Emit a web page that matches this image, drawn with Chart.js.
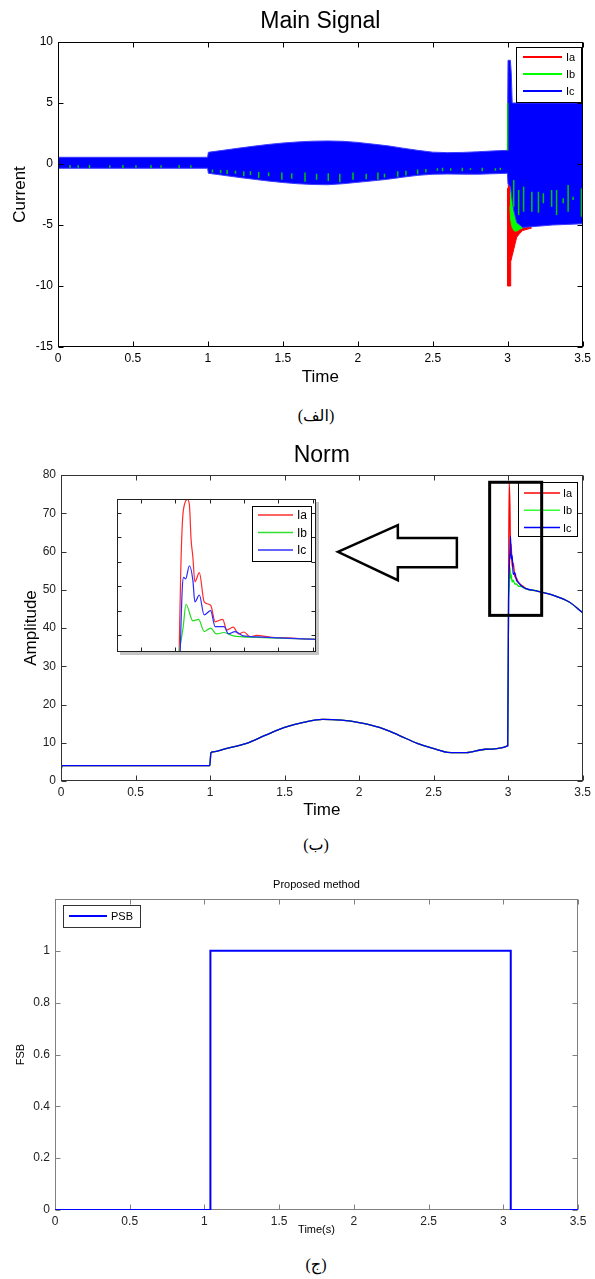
<!DOCTYPE html>
<html>
<head>
<meta charset="utf-8">
<script src="https://cdn.jsdelivr.net/npm/chart.js@4.4.1/dist/chart.umd.min.js"></script>
<style>
  body { margin: 0; background: #fff; }
  #page { position: relative; width: 595px; height: 1279px; overflow: hidden; background: #fff; }
  canvas { position: absolute; left: 0; }
  .cap { position: absolute; left: 0; width: 632px; text-align: center; font: 16px "Liberation Serif", "DejaVu Sans", serif; line-height: 20px; color: #000; }
</style>
</head>
<body>
<div id="page">
  <canvas id="signal" width="595" height="395" style="top:0"></canvas>
  <div class="cap" style="top:406px">(الف)</div>
  <canvas id="norm" width="595" height="400" style="top:430px"></canvas>
  <canvas id="zoomed" width="215" height="170" style="top:492px;left:110px"></canvas>
  <div class="cap" style="top:835px">(ب)</div>
  <canvas id="psb" width="595" height="385" style="top:860px"></canvas>
  <div class="cap" style="top:1255px">(ج)</div>
</div>
<script>
// ---- values ----
const timeTicks = [0, 0.5, 1, 1.5, 2, 2.5, 3, 3.5];
const currentTicks = [-15, -10, -5, 0, 5, 10];
const normTicks = [0, 10, 20, 30, 40, 50, 60, 70, 80];
const psbTicks = [0, 0.2, 0.4, 0.6, 0.8, 1];
const zoomTTicks = [3.0, 3.01, 3.02, 3.03, 3.04, 3.05];
const zoomYTicks = [45, 50, 55, 60, 65, 70];

const phaseNames = ['Ia', 'Ib', 'Ic'];
const phaseColors = ['#ff0000', '#00ff00', '#0000ff'];

// Main Signal: envelope of the dense blue (Ic) band
const envT = [0, 0.998, 1.003, 1.1, 1.2, 1.3, 1.4, 1.5, 1.6, 1.7, 1.8, 1.9, 2.0, 2.1, 2.2, 2.3, 2.4, 2.5, 2.6, 2.7,
  2.8, 2.9, 2.998, 3.002, 3.018, 3.024, 3.03, 3.04, 3.06, 3.1, 3.2, 3.3, 3.4, 3.5];
const envUpper = [0.55, 0.55, 0.96, 1.12, 1.29, 1.45, 1.6, 1.72, 1.81, 1.87, 1.89, 1.86, 1.77, 1.63, 1.49, 1.3, 1.12, 0.97, 0.93, 0.95,
  1.0, 1.07, 1.12, 8.5, 8.5, 7.4, 5.0, 5.0, 5.0, 5.0, 5.0, 5.0, 5.0, 5.0];
const envLower = [-0.35, -0.35, -0.76, -0.92, -1.09, -1.24, -1.39, -1.52, -1.62, -1.68, -1.7, -1.62, -1.5, -1.38, -1.25, -1.08, -0.93, -0.84, -0.82, -0.83,
  -0.84, -0.8, -0.76, -1.6, -1.9, -2.4, -3.0, -3.8, -4.8, -5.2, -5.1, -5.0, -4.95, -4.9];

// Ia dips below the band right after the fault
const iaTailT = [2.999, 3.0, 3.017, 3.02, 3.03, 3.04, 3.05, 3.06, 3.08, 3.1, 3.13, 3.16];
const iaTailMin = [-2.0, -10.0, -10.0, -8.0, -7.5, -7.0, -6.5, -6.0, -5.7, -5.45, -5.35, -5.25];

// Ib fringe under the band and the green streaks inside it
const ibTailT = [3.015, 3.02, 3.03, 3.045, 3.06, 3.08, 3.1];
const ibTailMin = [-3.5, -4.6, -5.2, -5.5, -5.5, -5.35, -5.25];
const ibDashT = [0.08, 0.135, 0.21, 0.345, 0.433, 0.52, 0.62, 0.687, 0.808, 0.886,
  1.03, 1.085, 1.128, 1.184, 1.239, 1.284, 1.339, 1.405, 1.493, 1.559, 1.648, 1.725, 1.803, 1.88, 1.968,
  2.056, 2.134, 2.178, 2.266, 2.321, 2.399, 2.454, 2.531, 2.565, 2.62, 2.697, 2.752, 2.83, 2.918, 2.951,
  3.0, 3.04, 3.073, 3.106, 3.161, 3.205, 3.238, 3.293, 3.326, 3.37, 3.403, 3.436, 3.492];
const ibDashTop = [-0.08, -0.1, -0.08, -0.1, -0.08, -0.1, -0.08, -0.1, -0.08, -0.1,
  -0.45, -0.5, -0.5, -0.55, -0.6, -0.6, -0.65, -0.7, -0.7, -0.75, -0.7, -0.8, -0.75, -0.8, -0.7,
  -0.8, -0.7, -0.8, -0.6, -0.55, -0.45, -0.4, -0.35, -0.3, -0.35, -0.3, -0.35, -0.3, -0.35, -0.3,
  1.1, -1.31, -2.13, -1.86, -2.27, -2.27, -2.4, -2.13, -2.13, -2.81, -1.72, -2.68, -2.0];
const ibDashBottom = [-0.35, -0.3, -0.35, -0.3, -0.35, -0.3, -0.35, -0.3, -0.35, -0.3,
  -0.7, -0.75, -0.85, -0.8, -1.0, -0.9, -1.15, -1.0, -1.3, -1.2, -1.45, -1.3, -1.4, -1.5, -1.3,
  -1.25, -1.3, -1.1, -1.05, -0.95, -0.85, -0.7, -0.55, -0.6, -0.55, -0.6, -0.5, -0.6, -0.55, -0.5,
  5.0, -3.5, -4.18, -3.91, -3.91, -3.99, -3.22, -3.5, -4.18, -3.22, -3.91, -2.95, -4.32];

// Norm
const normT = [0, 0.006, 0.998, 1.006, 1.02, 1.1, 1.245, 1.373, 1.5, 1.627, 1.755, 1.882, 2.009, 2.136, 2.264, 2.39,
  2.518, 2.594, 2.72, 2.849, 2.997,
  3.003, 3.007, 3.012, 3.016, 3.02, 3.027, 3.034, 3.045, 3.056, 3.067, 3.09, 3.12, 3.19, 3.3, 3.41, 3.5];
const normPre = [2.2, 4.0, 4.0, 7.4, 7.6, 8.4, 9.85, 12.0, 14.0, 15.3, 16.1, 15.9, 15.2, 14.0, 12.0, 9.85,
  8.3, 7.5, 7.4, 8.3, 9.2];
const normIaPost = [50, 78, 72, 60, 62, 56, 57, 53.5, 53, 52, 51.2, 50.3, 49.7, 48.6, 46.8, 44.0];
const normIbPost = [47, 50, 56, 53, 54, 52, 52.5, 51.5, 51.5, 51, 50.8, 50.2, 49.7, 48.6, 46.8, 44.0];
const normIcPost = [48, 55, 60, 64, 58, 59, 54, 54.5, 52.5, 52, 51, 50.3, 49.7, 48.6, 46.8, 44.0];

// magnified view of the fault instant
const zoomIaT = [3.0111, 3.0116, 3.0121, 3.0128, 3.0135, 3.0141, 3.0146, 3.0151, 3.0157, 3.0170, 3.0184, 3.0203, 3.0216,
  3.0238, 3.0250, 3.0269, 3.0284, 3.0300, 3.0318, 3.0337, 3.0380, 3.0430, 3.0470, 3.0510];
const zoomIa = [41.0, 58.7, 68.6, 72.1, 72.8, 71.7, 64.5, 61.1, 55.9, 57.8, 51.8, 51.1, 47.7,
  48.2, 46.0, 46.6, 45.2, 45.6, 44.6, 44.9, 44.5, 44.4, 44.2, 44.1];
const zoomIbT = [3.0110, 3.0123, 3.0131, 3.0151, 3.0168, 3.0184, 3.0203, 3.0220, 3.0242, 3.0269, 3.0337, 3.0420, 3.0510];
const zoomIb = [41.0, 46.7, 51.3, 47.9, 48.2, 45.7, 46.4, 45.2, 45.5, 44.8, 44.5, 44.3, 44.1];
const zoomIcT = [3.0114, 3.0120, 3.0124, 3.0130, 3.0141, 3.0151, 3.0157, 3.0170, 3.0184, 3.0203, 3.0216, 3.0242, 3.0255,
  3.0274, 3.0298, 3.0337, 3.0400, 3.0510];
const zoomIc = [41.0, 54.2, 56.8, 56.5, 59.2, 56.3, 51.8, 53.2, 49.1, 50.0, 46.7, 46.7, 45.2,
  45.7, 44.8, 44.6, 44.4, 44.1];

// Proposed method
const psbT = [0, 1.04, 3.05, 3.5];
const psbV = [0, 1, 0, 0];

// annotation shapes on the Norm plot, in data units
const zoomBox = {t0: 2.876, t1: 3.225, v0: 43.3, v1: 78.1};
const arrowShape = [[1.858, 59.9], [2.26, 66.9], [2.26, 63.5], [2.656, 63.5], [2.656, 55.9], [2.26, 55.9], [2.26, 52.5]];

// ---- helpers ----
Chart.defaults.font.family = "'Liberation Sans', Arial, Helvetica, sans-serif";
Chart.defaults.color = '#000';

const pts = (xs, ys) => xs.map((x, i) => ({x: x, y: ys[i]}));
function dashPts(ts, tops, bottoms) {
  const out = [];
  ts.forEach((t, i) => { out.push({x: t, y: tops[i]}, {x: t, y: bottoms[i]}, {x: t, y: null}); });
  return out;
}

function axis(tickVals, min, max, o) {
  return {
    type: 'linear', min: min, max: max, display: o.display !== false,
    afterBuildTicks: s => { s.ticks = tickVals.map(v => ({value: v})); },
    afterFit: s => { if (o.width) s.width = o.width; if (o.height) s.height = o.height; },
    grid: {display: false, drawTicks: false},
    border: {display: false},
    ticks: {autoSkip: false, maxRotation: 0, padding: o.pad || 4, color: o.tickColor || '#000',
      font: {size: o.tickSize || 12}, callback: v => String(v)},
    title: {display: !!o.title, text: o.title || '', color: '#000', font: {size: o.titleSize || 17},
      padding: {top: o.titlePad || 0, bottom: o.titlePad || 0}}
  };
}

function drawBox(chart, cfg) {
  const {ctx, chartArea: a, scales} = chart;
  const L = Math.round(a.left) + 0.5, R = Math.round(a.right) - 0.5;
  const T = Math.round(a.top) + 0.5, B = Math.round(a.bottom) - 0.5;
  ctx.save();
  ctx.strokeStyle = cfg.color;
  ctx.lineWidth = cfg.width || 1;
  ctx.strokeRect(L, T, R - L, B - T);
  ctx.beginPath();
  cfg.xTicks.forEach(v => {
    const px = Math.round(scales.x.getPixelForValue(v)) + 0.5;
    ctx.moveTo(px, B); ctx.lineTo(px, B - cfg.tick);
    ctx.moveTo(px, T); ctx.lineTo(px, T + cfg.tick);
  });
  cfg.yTicks.forEach(v => {
    const py = Math.round(scales.y.getPixelForValue(v)) + 0.5;
    ctx.moveTo(L, py); ctx.lineTo(L + cfg.tick, py);
    ctx.moveTo(R, py); ctx.lineTo(R - cfg.tick, py);
  });
  ctx.stroke();
  ctx.restore();
}

function drawLegend(ctx, lg) {
  ctx.save();
  ctx.fillStyle = '#fff';
  ctx.fillRect(lg.x, lg.y, lg.w, lg.h);
  ctx.strokeStyle = lg.edge || '#000';
  ctx.lineWidth = 1;
  ctx.strokeRect(lg.x + 0.5, lg.y + 0.5, lg.w, lg.h);
  ctx.font = lg.font;
  ctx.textBaseline = 'middle';
  ctx.textAlign = 'left';
  lg.names.forEach((name, i) => {
    const yy = lg.rowY + i * lg.rowGap;
    ctx.strokeStyle = lg.colors[i];
    ctx.lineWidth = lg.lineWidth;
    ctx.beginPath(); ctx.moveTo(lg.x0, yy); ctx.lineTo(lg.x1, yy); ctx.stroke();
    ctx.fillStyle = '#000';
    ctx.fillText(name, lg.textX, yy + 1);
  });
  ctx.restore();
}

function boxFrame(cfg) {
  return {
    id: 'boxFrame',
    beforeDatasetsDraw(chart) {
      const {ctx, chartArea: a} = chart;
      if (cfg.paper) {
        ctx.save();
        ctx.fillStyle = '#c4c4c4';
        ctx.fillRect(a.left + 3, a.top + 3, a.width, a.height);
        ctx.fillStyle = '#fff';
        ctx.fillRect(a.left, a.top, a.width, a.height);
        ctx.restore();
      }
      if (cfg.under) drawBox(chart, cfg);
    },
    afterDatasetsDraw(chart) {
      const ctx = chart.ctx;
      if (!cfg.under) drawBox(chart, cfg);
      if (cfg.legend) drawLegend(ctx, cfg.legend);
      if (cfg.shapes) cfg.shapes(chart);
      if (cfg.title) {
        const a = chart.chartArea;
        ctx.save();
        ctx.font = cfg.title.font;
        ctx.fillStyle = '#000';
        ctx.textAlign = 'center';
        ctx.textBaseline = 'alphabetic';
        ctx.fillText(cfg.title.text, (a.left + a.right) / 2, cfg.title.y);
        ctx.restore();
      }
    }
  };
}

const common = {
  responsive: false, animation: false, devicePixelRatio: 1, events: [],
  plugins: {legend: {display: false}, tooltip: {enabled: false}}
};
const lineStyle = {pointRadius: 0, pointHoverRadius: 0};

// ---- Main Signal ----
new Chart(document.getElementById('signal'), {
  type: 'line',
  data: {datasets: [
    {label: 'Ib', data: dashPts(ibDashT, ibDashTop, ibDashBottom), borderColor: '#00c800', borderWidth: 1.5, fill: false, ...lineStyle},
    {label: 'Ic', data: pts(envT, envUpper), borderColor: '#3c3cff', borderWidth: 1, fill: false, ...lineStyle},
    {label: 'Ic', data: pts(envT, envLower), borderColor: '#3c3cff', borderWidth: 1, fill: '-1', backgroundColor: '#0000ff', ...lineStyle},
    {label: 'Ib', data: pts(ibTailT, ibTailMin), borderColor: '#00ff00', borderWidth: 1, fill: 'origin', backgroundColor: '#00ff00', ...lineStyle},
    {label: 'Ia', data: pts(iaTailT, iaTailMin), borderColor: '#ff0000', borderWidth: 1, fill: 'origin', backgroundColor: '#ff0000', ...lineStyle}
  ]},
  options: {
    ...common,
    layout: {padding: {top: 42, right: 9, bottom: 0, left: 0}},
    scales: {
      x: axis(timeTicks, 0, 3.5, {height: 48, pad: 4, title: 'Time', titleSize: 17, titlePad: 7.8}),
      y: axis(currentTicks, -15, 10, {width: 58, pad: 5, title: 'Current', titleSize: 17, titlePad: 9.8})
    }
  },
  plugins: [boxFrame({
    color: '#000', tick: 5, xTicks: timeTicks, yTicks: currentTicks,
    title: {text: 'Main Signal', font: "23px 'Liberation Sans', Arial, sans-serif", y: 28},
    legend: {x: 516, y: 47, w: 65, h: 55, names: phaseNames, colors: phaseColors, rowY: 57, rowGap: 17,
      x0: 523, x1: 562, textX: 566, lineWidth: 2, font: "11px 'Liberation Sans', Arial, sans-serif"}
  })]
});

// ---- Norm ----
function drawCallout(chart) {
  const {ctx, scales: {x, y}} = chart;
  ctx.save();
  ctx.strokeStyle = '#000';
  ctx.lineWidth = 3;
  const bx0 = x.getPixelForValue(zoomBox.t0), bx1 = x.getPixelForValue(zoomBox.t1);
  const by0 = y.getPixelForValue(zoomBox.v1), by1 = y.getPixelForValue(zoomBox.v0);
  ctx.strokeRect(bx0, by0, bx1 - bx0, by1 - by0);
  ctx.lineWidth = 2.5;
  ctx.lineJoin = 'miter';
  ctx.beginPath();
  arrowShape.forEach((p, i) => {
    const px = x.getPixelForValue(p[0]), py = y.getPixelForValue(p[1]);
    if (i === 0) ctx.moveTo(px, py); else ctx.lineTo(px, py);
  });
  ctx.closePath();
  ctx.fillStyle = '#fff';
  ctx.fill();
  ctx.stroke();
  ctx.restore();
}

const normIa = normPre.concat(normIaPost);
const normIb = normPre.concat(normIbPost);
const normIc = normPre.concat(normIcPost);

new Chart(document.getElementById('norm'), {
  type: 'line',
  data: {datasets: [
    {label: 'Ic', data: pts(normT, normIc), borderColor: '#0000ff', borderWidth: 1.3, cubicInterpolationMode: 'monotone', fill: false, ...lineStyle},
    {label: 'Ib', data: pts(normT, normIb), borderColor: '#00ee00', borderWidth: 1.3, cubicInterpolationMode: 'monotone', fill: false, ...lineStyle},
    {label: 'Ia', data: pts(normT, normIa), borderColor: '#ff0000', borderWidth: 1.3, cubicInterpolationMode: 'monotone', fill: false, ...lineStyle}
  ]},
  options: {
    ...common,
    layout: {padding: {top: 45, right: 12, bottom: 0, left: 0}},
    scales: {
      x: axis(timeTicks, 0, 3.5, {height: 49, pad: 4, tickColor: '#222', title: 'Time', titleSize: 17, titlePad: 9.8}),
      y: axis(normTicks, 0, 80, {width: 61, pad: 5, tickColor: '#222', title: 'Amplitude', titleSize: 17, titlePad: 20.8})
    }
  },
  plugins: [boxFrame({
    color: '#333', tick: 5, xTicks: timeTicks, yTicks: normTicks,
    title: {text: 'Norm', font: "23px 'Liberation Sans', Arial, sans-serif", y: 32},
    legend: {x: 518, y: 52, w: 59, h: 54, names: phaseNames, colors: ['#ff0000', '#33ff33', '#0000ff'], rowY: 63, rowGap: 17.3,
      x0: 524, x1: 560, textX: 563, lineWidth: 1.5, font: "11px 'Liberation Sans', Arial, sans-serif"},
    shapes: drawCallout
  })]
});

// ---- magnified inset ----
new Chart(document.getElementById('zoomed'), {
  type: 'line',
  data: {datasets: [
    {label: 'Ic', data: pts(zoomIcT, zoomIc), borderColor: '#2a2aff', borderWidth: 1.2, cubicInterpolationMode: 'monotone', fill: false, ...lineStyle},
    {label: 'Ib', data: pts(zoomIbT, zoomIb), borderColor: '#22dd22', borderWidth: 1.2, cubicInterpolationMode: 'monotone', fill: false, ...lineStyle},
    {label: 'Ia', data: pts(zoomIaT, zoomIa), borderColor: '#ff2a2a', borderWidth: 1.2, cubicInterpolationMode: 'monotone', fill: false, ...lineStyle}
  ]},
  options: {
    ...common,
    layout: {padding: {top: 7, right: 9, bottom: 10, left: 7}},
    scales: {
      x: axis(zoomTTicks, 2.993, 3.051, {display: false}),
      y: axis(zoomYTicks, 41.5, 72.9, {display: false})
    }
  },
  plugins: [boxFrame({
    color: '#222', tick: 4, paper: true, xTicks: zoomTTicks, yTicks: zoomYTicks,
    legend: {x: 142, y: 14, w: 59, h: 55, names: phaseNames, colors: ['#ff3030', '#30e030', '#3030ff'], rowY: 23, rowGap: 17.5,
      x0: 148, x1: 183, textX: 187, lineWidth: 1.3, font: "12px 'Liberation Sans', Arial, sans-serif"}
  })]
});

// ---- Proposed method ----
new Chart(document.getElementById('psb'), {
  type: 'line',
  data: {datasets: [
    {label: 'PSB', data: pts(psbT, psbV), borderColor: '#0000ff', borderWidth: 2, stepped: true, fill: false, ...lineStyle}
  ]},
  options: {
    ...common,
    layout: {padding: {top: 39, right: 17, bottom: 0, left: 0}},
    scales: {
      x: axis(timeTicks, 0, 3.5, {height: 35, pad: 4, tickSize: 12, tickColor: '#222', title: 'Time(s)', titleSize: 11, titlePad: 8.4}),
      y: axis(psbTicks, 0, 1.2, {width: 55, pad: 5, tickSize: 12, tickColor: '#222', title: 'FSB', titleSize: 11, titlePad: 14.4})
    }
  },
  plugins: [boxFrame({
    color: '#808080', tick: 5, under: true, xTicks: timeTicks, yTicks: psbTicks,
    title: {text: 'Proposed method', font: "11px 'Liberation Sans', Arial, sans-serif", y: 28},
    legend: {x: 63, y: 45, w: 77, h: 22, edge: '#333', names: ['PSB'], colors: ['#0000ff'], rowY: 56, rowGap: 0,
      x0: 69, x1: 107, textX: 111, lineWidth: 2, font: "11px 'Liberation Sans', Arial, sans-serif"}
  })]
});
</script>
</body>
</html>
